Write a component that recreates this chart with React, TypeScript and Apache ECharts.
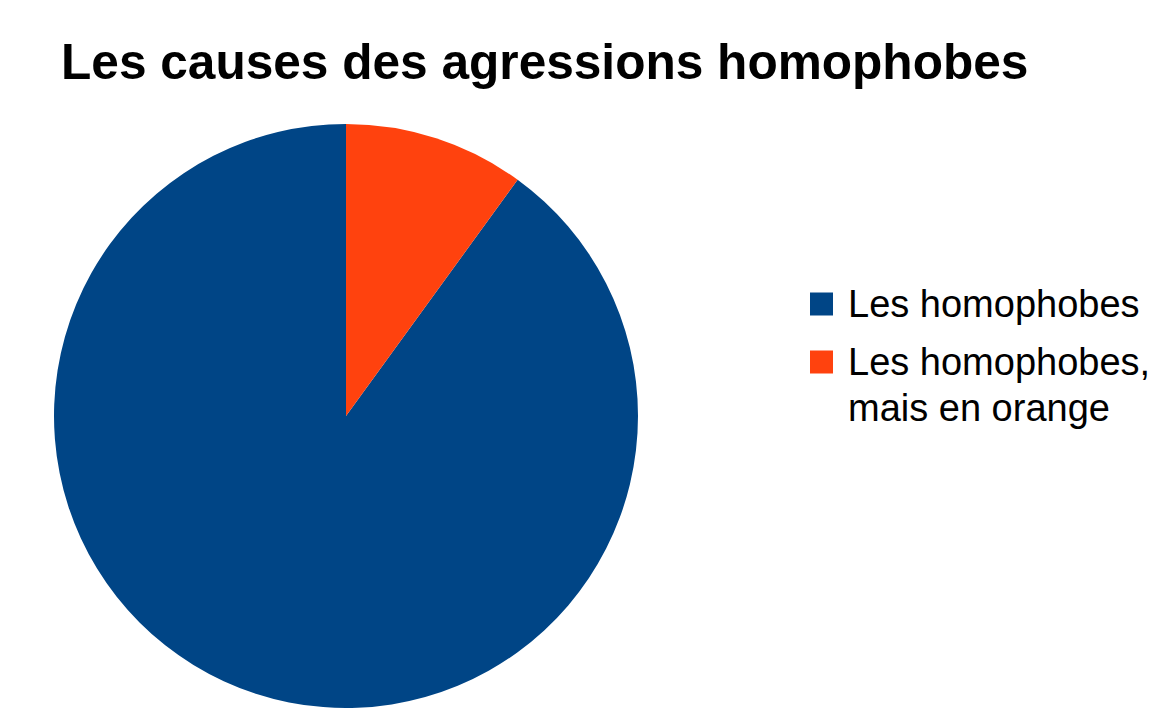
import React, { useEffect, useRef } from "react";
import * as echarts from "echarts";

const titleText = "Les causes des agressions homophobes";
const categories = ["Les homophobes", "Les homophobes,\nmais en orange"];
const values = [90, 10];
const colors = ["#004586", "#ff420e"];

export default function App() {
  const ref = useRef<HTMLDivElement>(null);
  useEffect(() => {
    const chart = echarts.init(ref.current!, null, { renderer: "svg" });
    const font = "'Liberation Sans', Arial, sans-serif";
    const legendText = { fontFamily: font, fontSize: 38, color: "#000", lineHeight: 46, padding: [0, 0, 0, 10] };
    chart.setOption({
      animation: false,
      title: {
        text: titleText,
        left: 61,
        top: 37,
        padding: 0,
        textStyle: { fontFamily: font, fontSize: 49.6, fontWeight: "bold", color: "#000" },
      },
      legend: [
        {
          data: [categories[0]],
          left: 810,
          top: 281,
          padding: 0,
          orient: "vertical",
          icon: "rect",
          itemWidth: 23,
          itemHeight: 23,
          selectedMode: false,
          textStyle: legendText,
        },
        {
          data: [categories[1]],
          left: 810,
          top: 293,
          padding: 0,
          orient: "vertical",
          icon: "rect",
          itemWidth: 23,
          itemHeight: 23,
          selectedMode: false,
          formatter: (name: string) => "\n" + name,
          textStyle: legendText,
        },
      ],
      series: [
        {
          type: "pie",
          center: [346, 416],
          radius: 292,
          startAngle: 90,
          clockwise: false,
          silent: true,
          label: { show: false },
          labelLine: { show: false },
          itemStyle: { borderWidth: 0 },
          data: categories.map((name, i) => ({ name, value: values[i], itemStyle: { color: colors[i] } })),
        },
      ],
    });
    return () => chart.dispose();
  }, []);
  return <div ref={ref} style={{ position: "fixed", left: 0, top: 0, width: 1175, height: 724, background: "#fff" }} />;
}
